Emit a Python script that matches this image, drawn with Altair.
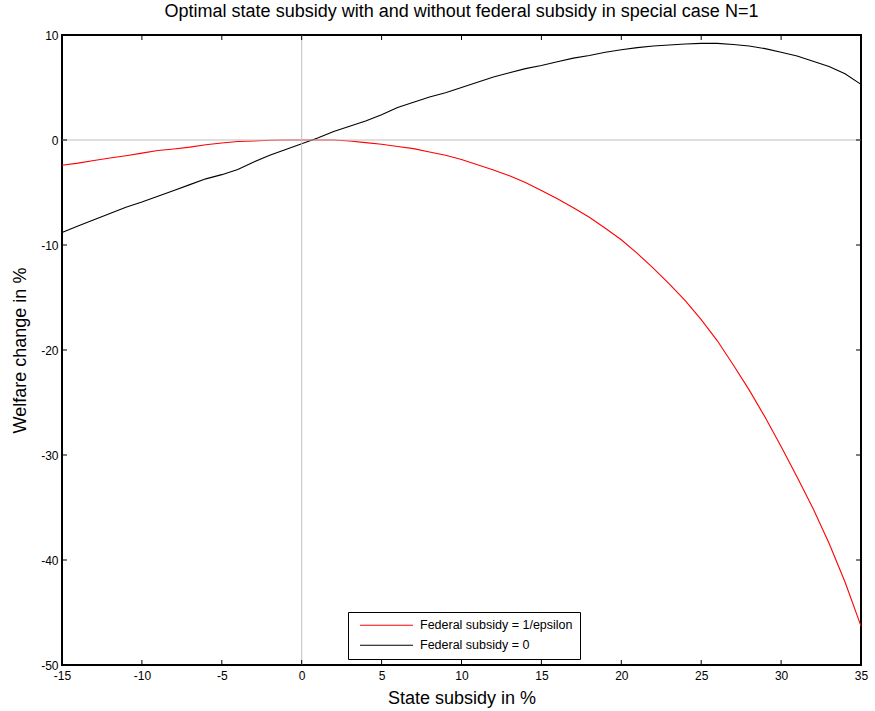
import altair as alt
import pandas as pd

# State subsidy (%) on the horizontal axis
subsidy = list(range(-15, 36))

# Welfare change (%) with federal subsidy = 1/epsilon
welfare_fed = [
    -2.4, -2.2, -1.95, -1.72, -1.5, -1.25, -1.0, -0.85, -0.68, -0.45,
    -0.28, -0.15, -0.1, -0.02, 0.0, 0.0, 0.0, 0.0, -0.1, -0.25,
    -0.4, -0.62, -0.82, -1.15, -1.45, -1.85, -2.35, -2.85, -3.4, -4.05,
    -4.8, -5.6, -6.45, -7.35, -8.4, -9.5, -10.8, -12.2, -13.7, -15.3,
    -17.1, -19.1, -21.4, -23.8, -26.4, -29.2, -32.1, -35.1, -38.4, -42.1,
    -46.3,
]

# Welfare change (%) without federal subsidy
welfare_nofed = [
    -8.8, -8.2, -7.6, -7.0, -6.4, -5.9, -5.35, -4.8, -4.25, -3.7,
    -3.3, -2.8, -2.1, -1.45, -0.9, -0.35, 0.2, 0.8, 1.3, 1.8,
    2.4, 3.1, 3.6, 4.1, 4.5, 5.0, 5.5, 6.0, 6.4, 6.8,
    7.1, 7.45, 7.8, 8.05, 8.35, 8.6, 8.8, 8.95, 9.05, 9.15,
    9.2, 9.2, 9.1, 8.95, 8.7, 8.35, 8.0, 7.5, 7.0, 6.3,
    5.3,
]

series_names = ["Federal subsidy = 1/epsilon", "Federal subsidy = 0"]
series_colors = ["#ff0000", "#000000"]

x_ticks = [-15, -10, -5, 0, 5, 10, 15, 20, 25, 30, 35]
y_ticks = [-50, -40, -30, -20, -10, 0, 10]

df = pd.concat([
    pd.DataFrame({"subsidy": subsidy, "welfare": welfare_fed, "series": series_names[0]}),
    pd.DataFrame({"subsidy": subsidy, "welfare": welfare_nofed, "series": series_names[1]}),
])

W, H = 799, 630
FONT = "Liberation Sans"
TICK = 5
PLAIN_LABEL = "'' + datum.value"  # hyphen-minus instead of the typographic minus

xscale = alt.Scale(domain=[-15, 35], nice=False, zero=False)
yscale = alt.Scale(domain=[-50, 10], nice=False, zero=False)

x_axis = alt.Axis(
    values=x_ticks, title="State subsidy in %", ticks=False, domain=False, grid=False,
    labelPadding=5, labelFontSize=12, labelOverlap=False, labelFlush=False, labelExpr=PLAIN_LABEL,
    titleFontSize=18, titleFontWeight="normal", titleX=W / 2, titleY=33,
    titleBaseline="middle", titleAlign="center",
)
y_axis = alt.Axis(
    values=y_ticks, title="Welfare change in %", ticks=False, domain=False, grid=False,
    labelPadding=4, labelFontSize=12, labelOverlap=False, labelFlush=False, labelExpr=PLAIN_LABEL,
    titleFontSize=18, titleFontWeight="normal", titleX=-42, titleY=H / 2,
    titleAngle=270, titleBaseline="middle", titleAlign="center",
)

lines = alt.Chart(df).mark_line(strokeWidth=1.1).encode(
    x=alt.X("subsidy:Q", scale=xscale, axis=x_axis),
    y=alt.Y("welfare:Q", scale=yscale, axis=y_axis),
    color=alt.Color(
        "series:N",
        scale=alt.Scale(domain=series_names, range=series_colors),
        legend=alt.Legend(
            title=None, orient="none", legendX=286, legendY=577, direction="vertical",
            symbolType="stroke", symbolSize=2800, symbolStrokeWidth=1.1, clipHeight=12.5,
            symbolOffset=4,
            labelFontSize=12.5, labelFont=FONT, labelColor="black", labelLimit=400,
            strokeColor="black", fillColor="white", padding=7, rowPadding=7, labelOffset=6,
        ),
    ),
)

# gray reference lines through the origin
zero_h = alt.Chart(pd.DataFrame({"welfare": [0]})).mark_rule(color="#c0c0c0", strokeWidth=1).encode(
    y=alt.Y("welfare:Q", scale=yscale)
)
zero_v = alt.Chart(pd.DataFrame({"subsidy": [0]})).mark_rule(color="#c0c0c0", strokeWidth=1).encode(
    x=alt.X("subsidy:Q", scale=xscale)
)

# inward tick marks on all four sides of the box
xt = pd.DataFrame({"subsidy": x_ticks})
yt = pd.DataFrame({"welfare": y_ticks})
tick_style = dict(color="black", strokeWidth=1)
ticks_bottom = alt.Chart(xt).mark_rule(**tick_style).encode(
    x=alt.X("subsidy:Q", scale=xscale), y=alt.value(H), y2=alt.value(H - TICK)
)
ticks_top = alt.Chart(xt).mark_rule(**tick_style).encode(
    x=alt.X("subsidy:Q", scale=xscale), y=alt.value(0), y2=alt.value(TICK)
)
ticks_left = alt.Chart(yt).mark_rule(**tick_style).encode(
    y=alt.Y("welfare:Q", scale=yscale), x=alt.value(0), x2=alt.value(TICK)
)
ticks_right = alt.Chart(yt).mark_rule(**tick_style).encode(
    y=alt.Y("welfare:Q", scale=yscale), x=alt.value(W), x2=alt.value(W - TICK)
)

chart = alt.layer(
    lines, zero_h, zero_v, ticks_bottom, ticks_top, ticks_left, ticks_right
).properties(
    width=W,
    height=H,
    padding={"left": 62, "top": 35, "right": 14, "bottom": 46},
    autosize="none",
    title=alt.TitleParams(
        "Optimal state subsidy with and without federal subsidy in special case N=1",
        fontSize=18, font=FONT, fontWeight="normal", anchor="middle", offset=8, color="black",
    ),
    background="white",
).configure_view(
    stroke="black", strokeWidth=2
).configure_axis(
    labelFont=FONT, titleFont=FONT, labelColor="black", titleColor="black"
)

chart.save("out.html", embed_options={"renderer": "svg", "actions": False})
